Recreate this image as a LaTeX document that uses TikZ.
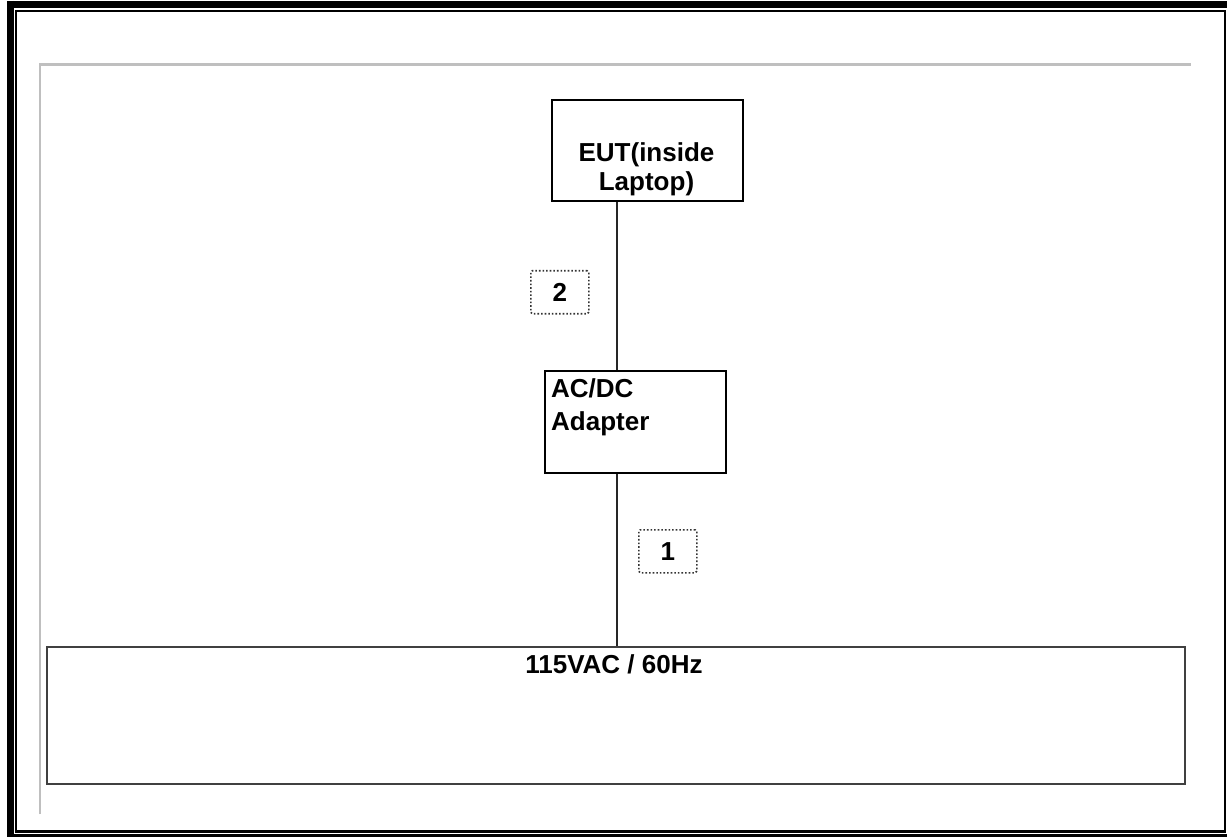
\documentclass[tikz,border=0pt]{standalone}
\usepackage{fontspec}
\setmainfont{Liberation Sans}
\usetikzlibrary{positioning}
\tikzset{
	blk/.style={draw=black, line width=1.8pt, anchor=north west, inner sep=0pt},
	tag/.style={draw=black!80, dotted, line width=1.6pt, rounded corners=1.5pt, anchor=north west, inner sep=0pt, minimum width=58pt, minimum height=43pt},
	txt/.style={inner sep=0pt, font=\fontsize{26}{29}\selectfont\bfseries},
	wire/.style={draw=black!85, line width=1.9pt},
}
\begin{document}
\begin{tikzpicture}[x=1pt, y=-1pt]
\useasboundingbox (0,0) rectangle (1227,837);
\fill[white] (0,0) rectangle (1227,837);
\draw[line width=7pt] (10.5,4.5) -- (1240,4.5);
\draw[line width=7pt] (10.5,1) -- (10.5,850);
\draw[line width=4pt] (7,836) -- (1240,836);
\draw[line width=2.2pt] (16,11) rectangle (1225,831.5);
\draw[black!25, line width=2.5pt] (40,814) -- (40,64.5) -- (1191,64.5);

\node[blk, minimum width=191pt, minimum height=101pt] (eut) at (551,99) {};
\node[txt, align=center, anchor=south] (euttxt) at (646.5,196) {EUT(inside\\Laptop)};
\node[blk, minimum width=181pt, minimum height=102pt] (adapter) at (544,370) {};
\node[txt, align=left, anchor=north west, font=\fontsize{26}{33.5}\selectfont\bfseries] (adaptertxt) at (551,378) {AC/DC\\Adapter};
\node[blk, draw=black!75, line width=2.4pt, minimum width=1138pt, minimum height=137pt] (mains) at (46,645.5) {};
\node[txt, anchor=north] (mainstxt) at (614,654.5) {115VAC / 60Hz};

\node[tag] (tagtwo) at (530,270) {};
\node[txt] at (tagtwo.center) {2};
\node[tag] (tagone) at (638,529) {};
\node[txt] at (tagone.center) {1};

\coordinate (cable) at (617,0);
\draw[wire] (eut.south -| cable) -- (adapter.north -| cable);
\draw[wire] (adapter.south -| cable) -- (mains.north -| cable);
\end{tikzpicture}
\end{document}
